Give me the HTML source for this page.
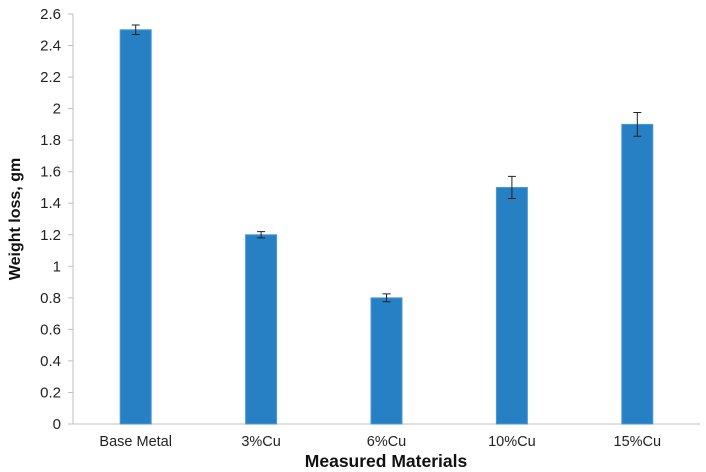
<!DOCTYPE html>
<html><head><meta charset="utf-8"><style>
html,body{margin:0;padding:0;background:#fff;}
svg{display:block;font-family:"Liberation Sans",Arial,sans-serif;}
</style></head><body>
<svg id="chart" width="706" height="472"></svg>
<script>
const categories=["Base Metal","3%Cu","6%Cu","10%Cu","15%Cu"];
const values=[2.5,1.2,0.8,1.5,1.9];
const errors=[0.03,0.02,0.025,0.07,0.075];
const yTicks=[0,0.2,0.4,0.6,0.8,1,1.2,1.4,1.6,1.8,2,2.2,2.4,2.6];
const yTickLabels=["0","0.2","0.4","0.6","0.8","1","1.2","1.4","1.6","1.8","2","2.2","2.4","2.6"];

const NS="http://www.w3.org/2000/svg";
const svg=document.getElementById('chart');
const L=73,R=700,T=14,B=424,yMax=2.6;
const y=v=>B-(v/yMax)*(B-T);
const band=(R-L)/categories.length;
const xc=i=>L+band*(i+0.5);
const barW=31;
function mk(tag,attrs,txt){const e=document.createElementNS(NS,tag);for(const k in attrs)e.setAttribute(k,attrs[k]);if(txt!==undefined)e.textContent=txt;svg.appendChild(e);return e;}

let ax=mk('line',{x1:L,y1:T,x2:L,y2:B,stroke:'#bfbfbf','stroke-width':1});


let xa=mk('line',{x1:L,y1:B,x2:R,y2:B,stroke:'#bfbfbf','stroke-width':1});



yTicks.forEach((t,i)=>{
  let tk=mk('line',{x1:L-5,y1:y(t),x2:L,y2:y(t),stroke:'#bfbfbf','stroke-width':1});
  
  
  let lb=mk('text',{x:L-12,y:y(t)+5,'text-anchor':'end','font-size':15,fill:'#222'},yTickLabels[i]);
  
  
});

categories.forEach((c,i)=>{
  let b=mk('rect',{x:xc(i)-barW/2,y:y(values[i]),width:barW,height:B-y(values[i]),fill:'#2880c4',stroke:'#4a9ad6','stroke-width':1});
  
  
  const hi=y(values[i]+errors[i]),lo=y(values[i]-errors[i]),cx=xc(i);
  let e=mk('path',{d:`M${cx},${hi}V${lo}M${cx-4},${hi}H${cx+4}M${cx-4},${lo}H${cx+4}`,stroke:'#222','stroke-width':1,fill:'none'});
  
  
  let lb=mk('text',{x:cx,y:446,'text-anchor':'middle','font-size':14.5,fill:'#222'},c);
  
  
});

let xt=mk('text',{x:386,y:467,'text-anchor':'middle','font-size':17.5,'font-weight':'bold',fill:'#111'},'Measured Materials');


let yt=mk('text',{x:0,y:0,'text-anchor':'middle','font-size':16,'font-weight':'bold',fill:'#111',transform:'translate(20,219) rotate(-90)'},'Weight loss, gm');


</script>
</body></html>
